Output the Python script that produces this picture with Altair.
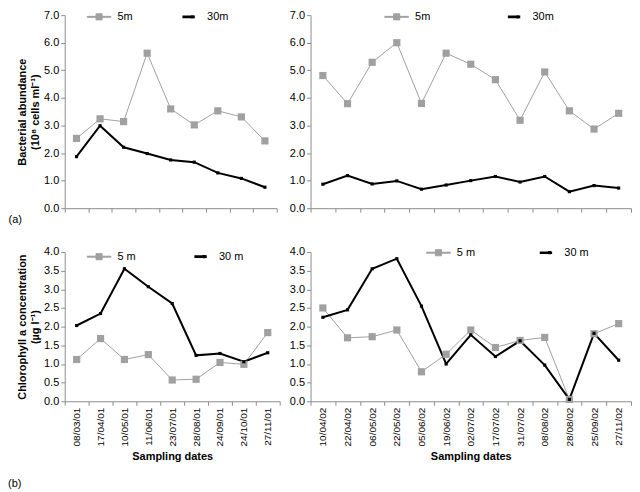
import altair as alt
import pandas as pd

# ---------------- data ----------------
dates_2001 = ["08/03/01", "17/04/01", "10/05/01", "11/06/01", "23/07/01",
              "28/08/01", "24/09/01", "24/10/01", "27/11/01"]
dates_2002 = ["10/04/02", "22/04/02", "06/05/02", "22/05/02", "05/06/02",
              "19/06/02", "02/07/02", "17/07/02", "31/07/02", "08/08/02",
              "28/08/02", "25/09/02", "27/11/02"]

bact_2001_5m = [2.53, 3.24, 3.14, 5.62, 3.60, 3.02, 3.53, 3.31, 2.44]
bact_2001_30m = [1.87, 2.99, 2.21, 1.98, 1.75, 1.67, 1.28, 1.08, 0.76]
bact_2002_5m = [4.81, 3.79, 5.29, 6.00, 3.80, 5.62, 5.22, 4.66, 3.19, 4.94, 3.53, 2.87, 3.44]
bact_2002_30m = [0.87, 1.18, 0.88, 0.99, 0.69, 0.84, 1.00, 1.15, 0.95, 1.15, 0.60, 0.82, 0.73]

chl_2001_5m = [1.12, 1.68, 1.12, 1.25, 0.57, 0.59, 1.04, 0.99, 1.84]
chl_2001_30m = [2.03, 2.35, 3.55, 3.07, 2.62, 1.23, 1.28, 1.06, 1.30]
chl_2002_5m = [2.50, 1.70, 1.73, 1.91, 0.79, 1.26, 1.91, 1.44, 1.63, 1.71, 0.05, 1.81, 2.08]
chl_2002_30m = [2.25, 2.45, 3.55, 3.82, 2.55, 1.00, 1.78, 1.20, 1.62, 0.97, 0.05, 1.82, 1.10]

names_top = ["5m", "30m"]
names_bottom = ["5 m", "30 m"]
bact_ticks = [0, 1, 2, 3, 4, 5, 6, 7]
chl_ticks = [0, 0.5, 1, 1.5, 2, 2.5, 3, 3.5, 4]

FONT = "Liberation Sans"
GRAY = "#a0a0a0"
# legend glyphs: a line segment with its marker
PATH_5 = "M-3.3,-0.13H3.3V0.13H-3.3Z M-0.85,-0.85H0.85V0.85H-0.85Z"
PATH_30 = "M-3.3,-0.22H3.3V0.22H-3.3Z M2.0,-0.4H2.6V0.4H2.0Z"


def long_df(dates, v5, v30, names):
    rows = []
    for i, (d, v) in enumerate(zip(dates, v5)):
        rows.append({"date": d, "series": names[0], "value": v, "i": i})
    for i, (d, v) in enumerate(zip(dates, v30)):
        rows.append({"date": d, "series": names[1], "value": v, "i": i})
    return pd.DataFrame(rows)


def panel(dates, v5, v30, names, ymax, yticks, width, height, x_axis, y_title,
          y_title_pad, leg_x, leg_y, leg_pad):
    df = long_df(dates, v5, v30, names)
    col_scale = alt.Scale(domain=names, range=[GRAY, "#000000"])
    leg = alt.Legend(orient="none", legendX=leg_x, legendY=leg_y, direction="horizontal",
                     columns=2, title=None, symbolSize=100, symbolStrokeWidth=0,
                     labelFontSize=11, labelFont=FONT, labelOffset=13,
                     columnPadding=leg_pad, padding=0, symbolOpacity=1)
    x = alt.X("date:N", sort=dates, bandPosition=0.5,
              scale=alt.Scale(type="band", paddingInner=0, paddingOuter=0),
              axis=x_axis)
    if y_title is None:
        y_axis = alt.Axis(values=yticks, format=".1f", title=None)
    else:
        y_axis = alt.Axis(values=yticks, format=".1f", title=y_title,
                          titlePadding=y_title_pad, titleFontWeight="bold",
                          titleLineHeight=13)
    y = alt.Y("value:Q", scale=alt.Scale(domain=[0, ymax], nice=False), axis=y_axis)
    base = alt.Chart(df)
    lines = base.mark_line().encode(
        x=x, y=y, detail="series:N", order="i:Q",
        color=alt.Color("series:N", scale=col_scale, legend=leg),
        strokeWidth=alt.StrokeWidth("series:N", scale=alt.Scale(domain=names, range=[1, 2]), legend=None),
    )
    points = base.mark_point(filled=True, shape="square", opacity=1).encode(
        x=x, y=y,
        color=alt.Color("series:N", scale=col_scale, legend=leg),
        size=alt.Size("series:N", scale=alt.Scale(domain=names, range=[52, 10]), legend=None),
    )
    legend_layer = base.transform_filter("datum.value < -100").mark_point(
        filled=True, opacity=1, size=100).encode(
        color=alt.Color("series:N", scale=col_scale, legend=leg),
        shape=alt.Shape("series:N", scale=alt.Scale(domain=names, range=[PATH_5, PATH_30]), legend=leg),
    )
    return alt.layer(lines, points, legend_layer).properties(width=width, height=height)


top_x_left = alt.Axis(labels=False, tickBand="extent", title="(a)", titleFontWeight="normal",
                      titleX=-57, titleY=5, titleAlign="left", titleBaseline="top")
top_x_right = alt.Axis(labels=False, tickBand="extent", title=None)
bottom_x = alt.Axis(tickBand="extent", labelAngle=270, labelFontSize=10,
                    title="Sampling dates", titleFontWeight="bold", titlePadding=5)

tl = panel(dates_2001, bact_2001_5m, bact_2001_30m, names_top, 7, bact_ticks, 213, 194,
           top_x_left, ["Bacterial abundance", "(10⁸ cells ml⁻¹)"], 3, 29, -4, 46)
tr = panel(dates_2002, bact_2002_5m, bact_2002_30m, names_top, 7, bact_ticks, 322, 194,
           top_x_right, None, 3, 81, -4, 74)
bl = panel(dates_2001, chl_2001_5m, chl_2001_30m, names_bottom, 4, chl_ticks, 216, 150,
           bottom_x, ["Chlorophyll a concentration", "(µg l⁻¹)"], 3, 29, -1, 55)
br = panel(dates_2002, chl_2002_5m, chl_2002_30m, names_bottom, 4, chl_ticks, 322, 150,
           bottom_x, None, 3, 123, -5, 61)

chart = alt.concat(tl, tr, bl, br, columns=2, spacing={"row": 44, "column": 31},
                   bounds="flush").resolve_scale(
    color="independent", shape="independent", size="independent", strokeWidth="independent"
).resolve_legend(
    color="independent", shape="independent", size="independent", strokeWidth="independent"
).properties(
    title=alt.TitleParams("(b)", orient="bottom", anchor="start", fontWeight="normal",
                          fontSize=11, font=FONT, offset=16),
    padding=0,
).configure_axis(
    grid=False, domainColor="#8c8c8c", tickColor="#8c8c8c", tickSize=4,
    labelFont=FONT, titleFont=FONT, labelFontSize=11, titleFontSize=11,
    labelColor="#000000", titleColor="#000000", labelPadding=2,
).configure_view(stroke=None)

chart.save("out.html", embed_options={"renderer": "svg", "actions": False})
